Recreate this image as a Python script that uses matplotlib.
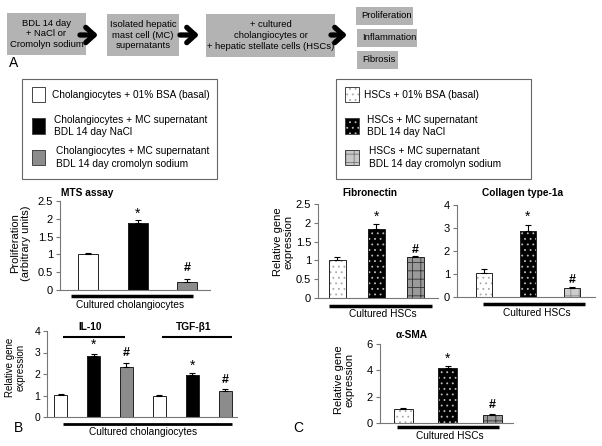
import matplotlib
matplotlib.use("Agg")
import matplotlib.pyplot as plt
from matplotlib.patches import Rectangle
import numpy as np

plt.rcParams['font.family'] = ['Liberation Sans', 'DejaVu Sans']
plt.rcParams['hatch.linewidth'] = 0.6

W, H = 602, 446

# ---------------- data ----------------
mts_vals = [1.0, 1.88, 0.22]
mts_err = [0.03, 0.08, 0.08]

b_groups = ["IL-10", "TGF-β1"]
b_vals = [1.02, 2.85, 2.33, 1.0, 1.97, 1.22]
b_err = [0.07, 0.08, 0.18, 0.03, 0.07, 0.10]

fib_vals = [1.0, 1.83, 1.08]
fib_err = [0.08, 0.15, 0.03]

col_vals = [1.05, 2.87, 0.38]
col_err = [0.18, 0.25, 0.07]

sma_vals = [1.05, 4.2, 0.6]
sma_err = [0.07, 0.12, 0.05]

flow_boxes = ["BDL 14 day\n+ NaCl or\nCromolyn sodium",
              "Isolated hepatic\nmast cell (MC)\nsupernatants",
              "+ cultured\ncholangiocytes or\n+ hepatic stellate cells (HSCs)"]
outcomes = ["Proliferation", "Inflammation", "Fibrosis"]

chol_legend = ["Cholangiocytes + 01% BSA (basal)",
               "Cholangiocytes + MC supernatant\nBDL 14 day NaCl",
               "Cholangiocytes + MC supernatant\nBDL 14 day cromolyn sodium"]
hsc_legend = ["HSCs + 01% BSA (basal)",
              "HSCs + MC supernatant\nBDL 14 day NaCl",
              "HSCs + MC supernatant\nBDL 14 day cromolyn sodium"]

fig = plt.figure(figsize=(W / 100, H / 100), dpi=100)
ov = fig.add_axes([0, 0, 1, 1])
ov.set_xlim(0, W)
ov.set_ylim(H, 0)
ov.axis('off')

BOXC = '#b3b3b3'
FS = 7.3
FFS = 6.8

# ---------------- flow chart ----------------
boxes = [(7, 13, 79, 42), (107, 14, 72, 42), (206, 14, 129, 43)]
for (x, y, w, h), t in zip(boxes, flow_boxes):
    ov.add_patch(Rectangle((x, y), w, h, facecolor=BOXC, edgecolor='none'))
    ov.text(x + w / 2, y + h / 2, t, ha='center', va='center', fontsize=FFS, linespacing=1.25)
outboxes = [(356, 7, 57, 18), (357, 29, 60, 18), (357, 51, 41, 18)]
for (x, y, w, h), t in zip(outboxes, outcomes):
    ov.add_patch(Rectangle((x, y), w, h, facecolor=BOXC, edgecolor='none'))
    ov.text(x + 5, y + h / 2, t, ha='left', va='center', fontsize=FFS)
for x0, x1 in [(80, 98), (180, 199), (331, 347)]:
    ov.annotate('', xy=(x1, 35), xytext=(x0, 35),
                arrowprops=dict(arrowstyle='->,head_length=0.6,head_width=0.55',
                                lw=3.8, color='black', shrinkA=0, shrinkB=0))
ov.text(9, 63, "A", fontsize=10, ha='left', va='center')
ov.text(14, 428, "B", fontsize=10, ha='left', va='center')
ov.text(293, 428, "C", fontsize=10, ha='left', va='center')


# ---------------- legends ----------------
def draw_patch(ax, x, y, w, h, face, hatch=None, hcol=None, lw=0.7):
    ax.add_patch(Rectangle((x, y), w, h, facecolor=face, edgecolor='none'))
    if hatch:
        ax.add_patch(Rectangle((x, y), w, h, fill=False, hatch=hatch, edgecolor=hcol, lw=0))
    ax.add_patch(Rectangle((x, y), w, h, fill=False, edgecolor='#444444', lw=lw))


ov.add_patch(Rectangle((22, 79), 195, 100, fill=False, edgecolor='#666666', lw=0.8))
ov.add_patch(Rectangle((336, 79), 195, 100, fill=False, edgecolor='#666666', lw=0.8))

chol_style = [('white', None, None), ('black', None, None), ('#8c8c8c', None, None)]
hsc_style = [('white', '...', '#aaaaaa'), ('black', '...', '#bbbbbb'), ('#c8c8c8', '++', '#777777')]
ly = [(87, 15), (118, 16), (150, 15)]
tx_chol = [52, 54, 56]
tx_hsc = [364, 367, 369]
for i in range(3):
    y, h = ly[i]
    f, ht, hc = chol_style[i]
    draw_patch(ov, 32, y, 13, h, f)
    ov.text(tx_chol[i], y + h / 2, chol_legend[i], fontsize=FS, va='center', ha='left', linespacing=1.3)
    f, ht, hc = hsc_style[i]
    draw_patch(ov, 345, y, 14, h, f, ht, hc)
    ov.text(tx_hsc[i], y + h / 2, hsc_legend[i], fontsize=FS, va='center', ha='left', linespacing=1.3)


# ---------------- bar charts ----------------
def make_ax(x0, x1, ybot, ytop):
    return fig.add_axes([x0 / W, (H - ybot) / H, (x1 - x0) / W, (ybot - ytop) / H])


def style_ax(ax, yticks, ylim, xlim, tfs=8):
    ax.set_ylim(*ylim)
    ax.set_xlim(*xlim)
    ax.set_yticks(yticks)
    ax.set_yticklabels([('%g' % v) for v in yticks], fontsize=tfs)
    ax.set_xticks([])
    for s in ['top', 'right']:
        ax.spines[s].set_visible(False)
    for s in ['left', 'bottom']:
        ax.spines[s].set_color('#777777')
        ax.spines[s].set_linewidth(0.8)
    ax.tick_params(axis='y', length=3, width=0.8, color='#777777', pad=2)
    ax.patch.set_alpha(0)


def bars(ax, xs, vals, errs, width, styles):
    for x, v, (f, ht, hc) in zip(xs, vals, styles):
        ax.bar(x, v, width, color=f, edgecolor='none', zorder=2)
        if ht:
            ax.bar(x, v, width, fill=False, hatch=ht, edgecolor=hc, lw=0, zorder=3)
        ax.bar(x, v, width, fill=False, edgecolor='#222222', lw=0.7, zorder=4)
    ax.errorbar(xs, vals, yerr=[np.zeros(len(vals)), errs], fmt='none', ecolor='black',
                elinewidth=0.8, capsize=2.5, capthick=0.8, zorder=5)


def mark(ax, x, y, s):
    ax.text(x, y, s, ha='center', va='center', fontsize=9 if s == '#' else 10, fontweight='bold' if s == '#' else 'normal')


# MTS
ax = make_ax(60, 210, 290, 201)
style_ax(ax, [0, 0.5, 1, 1.5, 2, 2.5], (0, 2.5), (-0.566, 2.46))
bars(ax, [0, 1, 2], mts_vals, mts_err, 0.4, chol_style)
mark(ax, 1, 2.13, '*')
mark(ax, 2, 0.62, '#')
ov.text(87, 193, "MTS assay", fontsize=FS, fontweight='bold', ha='center', va='center')
ov.text(21, 243, "Proliferation\n(arbitrary units)", fontsize=8, rotation=90, ha='center', va='center', linespacing=1.1)
ov.plot([71, 193], [296, 296], color='black', lw=2.5, solid_capstyle='butt')
ov.text(130, 305, "Cultured cholangiocytes", fontsize=FS, ha='center', va='center')

# B IL-10 / TGF
ax = make_ax(47, 237, 417, 331)
style_ax(ax, [0, 1, 2, 3, 4], (0, 4), (-0.41, 5.35), tfs=7.5)
bars(ax, range(6), b_vals, b_err, 0.42, chol_style * 2)
mark(ax, 1, 3.38, '*')
mark(ax, 2, 2.97, '#')
mark(ax, 4, 2.36, '*')
mark(ax, 5, 1.72, '#')
ov.text(90, 327, b_groups[0], fontsize=FS, fontweight='bold', ha='center', va='center')
ov.text(194, 327, b_groups[1], fontsize=FS, fontweight='bold', ha='center', va='center')
ov.plot([63, 125], [337, 337], color='black', lw=1.5, solid_capstyle='butt')
ov.plot([162, 232], [337, 337], color='black', lw=1.5, solid_capstyle='butt')
ov.text(15, 367, "Relative gene\nexpression", fontsize=7, rotation=90, ha='center', va='center', linespacing=1.1)
ov.plot([63, 232], [424, 424], color='black', lw=2, solid_capstyle='butt')
ov.text(143, 432, "Cultured cholangiocytes", fontsize=FS, ha='center', va='center')

# Fibronectin
ax = make_ax(318, 438, 298, 204)
style_ax(ax, [0, 0.5, 1, 1.5, 2, 2.5], (0, 2.5), (-0.5, 2.58))
fib_style = [('white', '...', '#aaaaaa'), ('black', '...', '#bbbbbb'), ('#9a9a9a', '++', '#333333')]
bars(ax, [0, 1, 2], fib_vals, fib_err, 0.44, fib_style)
mark(ax, 1, 2.15, '*')
mark(ax, 2, 1.28, '#')
ov.text(370, 193, "Fibronectin", fontsize=FS, fontweight='bold', ha='center', va='center')
ov.text(283, 242, "Relative gene\nexpression", fontsize=8, rotation=90, ha='center', va='center', linespacing=1.1)
ov.plot([329, 432], [306, 306], color='black', lw=2.5, solid_capstyle='butt')
ov.text(383, 314, "Cultured HSCs", fontsize=FS, ha='center', va='center')

# Collagen
ax = make_ax(457, 595, 297, 205)
style_ax(ax, [0, 1, 2, 3, 4], (0, 4), (-0.61, 2.52))
col_style = [('white', '...', '#aaaaaa'), ('black', '...', '#bbbbbb'), ('#cccccc', '++', '#888888')]
bars(ax, [0, 1, 2], col_vals, col_err, 0.38, col_style)
mark(ax, 1, 3.5, '*')
mark(ax, 2, 0.74, '#')
ov.text(523, 193, "Collagen type-1a", fontsize=FS, fontweight='bold', ha='center', va='center')
ov.plot([483, 585], [304, 304], color='black', lw=2.5, solid_capstyle='butt')
ov.text(537, 313, "Cultured HSCs", fontsize=FS, ha='center', va='center')

# alpha-SMA
ax = make_ax(380, 513, 423, 344)
style_ax(ax, [0, 2, 4, 6], (0, 6), (-0.52, 2.47))
bars(ax, [0, 1, 2], sma_vals, sma_err, 0.43, fib_style)
mark(ax, 1, 4.85, '*')
mark(ax, 2, 1.37, '#')
ov.text(412, 335, "α-SMA", fontsize=FS, fontweight='bold', ha='center', va='center')
ov.text(344, 380, "Relative gene\nexpression", fontsize=8, rotation=90, ha='center', va='center', linespacing=1.1)
ov.plot([397, 499], [427, 427], color='black', lw=2.5, solid_capstyle='butt')
ov.text(450, 436, "Cultured HSCs", fontsize=FS, ha='center', va='center')

fig.savefig("out.png", dpi=100)
